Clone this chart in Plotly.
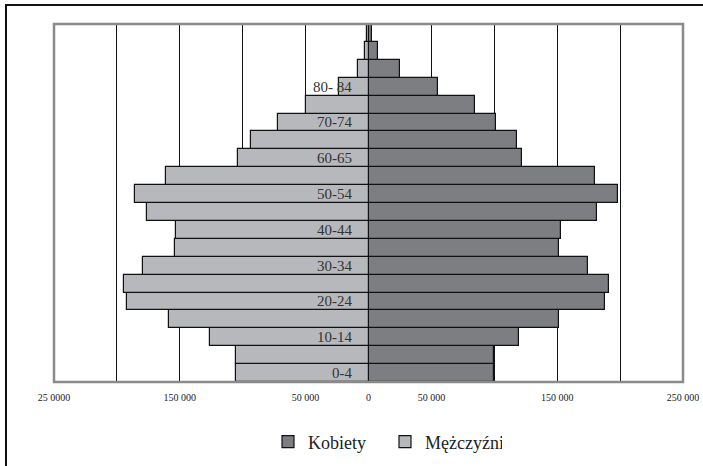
import plotly.graph_objects as go

ages = ["0-4", "5-9", "10-14", "15-19", "20-24", "25-29", "30-34", "35-39", "40-44", "45-49",
        "50-54", "55-59", "60-64", "65-69", "70-74", "75-79", "80-84", "85-89", "90-94", "95+"]
kobiety = [99400, 100000, 119500, 151800, 187800, 191500, 174600, 151300, 152900, 182000,
           198700, 180200, 122200, 118000, 101600, 84400, 55300, 24800, 7600, 2800]
mezczyzni = [105300, 105600, 125700, 158500, 192100, 194400, 179100, 154000, 152900, 176200,
             186000, 161100, 103500, 93700, 72200, 50000, 23300, 8200, 2900, 1500]
age_labels = {"0-4": "0-4", "10-14": "10-14", "20-24": "20-24", "30-34": "30-34",
              "40-44": "40-44", "50-54": "50-54", "60-64": "60-65", "70-74": "70-74",
              "80-84": "80- 84"}
tick_vals = [-250000, -150000, -50000, 0, 50000, 150000, 250000]
tick_text = ["25 0000", "150 000", "50 000", "0", "50 000", "150 000", "250 000"]

FONT = "Liberation Serif, Times New Roman, serif"
DARK = "#7d7e82"
LIGHT = "#b6b8bb"

fig = go.Figure()
fig.add_trace(go.Bar(
    y=ages, x=kobiety, orientation="h", name="Kobiety",
    marker=dict(color=DARK, line=dict(color="#111111", width=1.2)),
))
fig.add_trace(go.Bar(
    y=ages, x=[-v for v in mezczyzni], orientation="h", name="Mężczyźni",
    marker=dict(color=LIGHT, line=dict(color="#111111", width=1.2)),
))

for cat, txt in age_labels.items():
    fig.add_annotation(x=0, y=cat, xref="x", yref="y", text=txt, showarrow=False,
                       xanchor="right", xshift=-15, yshift=0,
                       font=dict(family=FONT, size=15, color="#333333"))

W, H = 703, 466
L, R, T, B = 54, 20, 24, 84
pw, ph = W - L - R, H - T - B

# outer chart border (extends past the right/bottom edge of the picture)
fig.add_shape(type="rect", xref="paper", yref="paper",
              x0=(6 - L) / pw, x1=(W + 10 - L) / pw,
              y0=-(B + 10) / ph, y1=1 + (T - 5) / ph,
              line=dict(color="#111111", width=2), fillcolor="rgba(0,0,0,0)", layer="below")
# plot area frame
fig.add_shape(type="rect", xref="paper", yref="paper", x0=0, x1=1, y0=0, y1=1,
              line=dict(color="#8a8a8a", width=2.5), fillcolor="rgba(0,0,0,0)", layer="above")

fig.update_layout(
    width=W, height=H,
    margin=dict(l=L, r=R, t=T, b=B, autoexpand=False),
    paper_bgcolor="white", plot_bgcolor="white",
    barmode="relative", bargap=0,
    font=dict(family=FONT, color="#222222"),
    showlegend=True,
    legend=dict(orientation="h", x=(268 - L) / pw, xanchor="left",
                y=-60 / ph, yanchor="middle",
                font=dict(family=FONT, size=18, color="#222222"),
                entrywidth=72, entrywidthmode="pixels", traceorder="normal"),
    xaxis=dict(range=[-250000, 250000], tickvals=tick_vals, ticktext=tick_text,
               showgrid=True, gridcolor="#111111", gridwidth=1,
               minor=dict(dtick=50000, tick0=0, showgrid=True, gridcolor="#111111", gridwidth=1),
               zeroline=False, showline=False, ticks="", ticklabelstandoff=8,
               tickfont=dict(family=FONT, size=10, color="#222222"),
               fixedrange=True),
    yaxis=dict(showticklabels=False, showgrid=False, zeroline=False, ticks="",
               range=[-0.5, 19.5], fixedrange=True),
)

fig.write_html(
    "out.html",
    config={"displayModeBar": False},
    post_script="document.body.style.margin='0';document.body.style.overflow='hidden';",
)
